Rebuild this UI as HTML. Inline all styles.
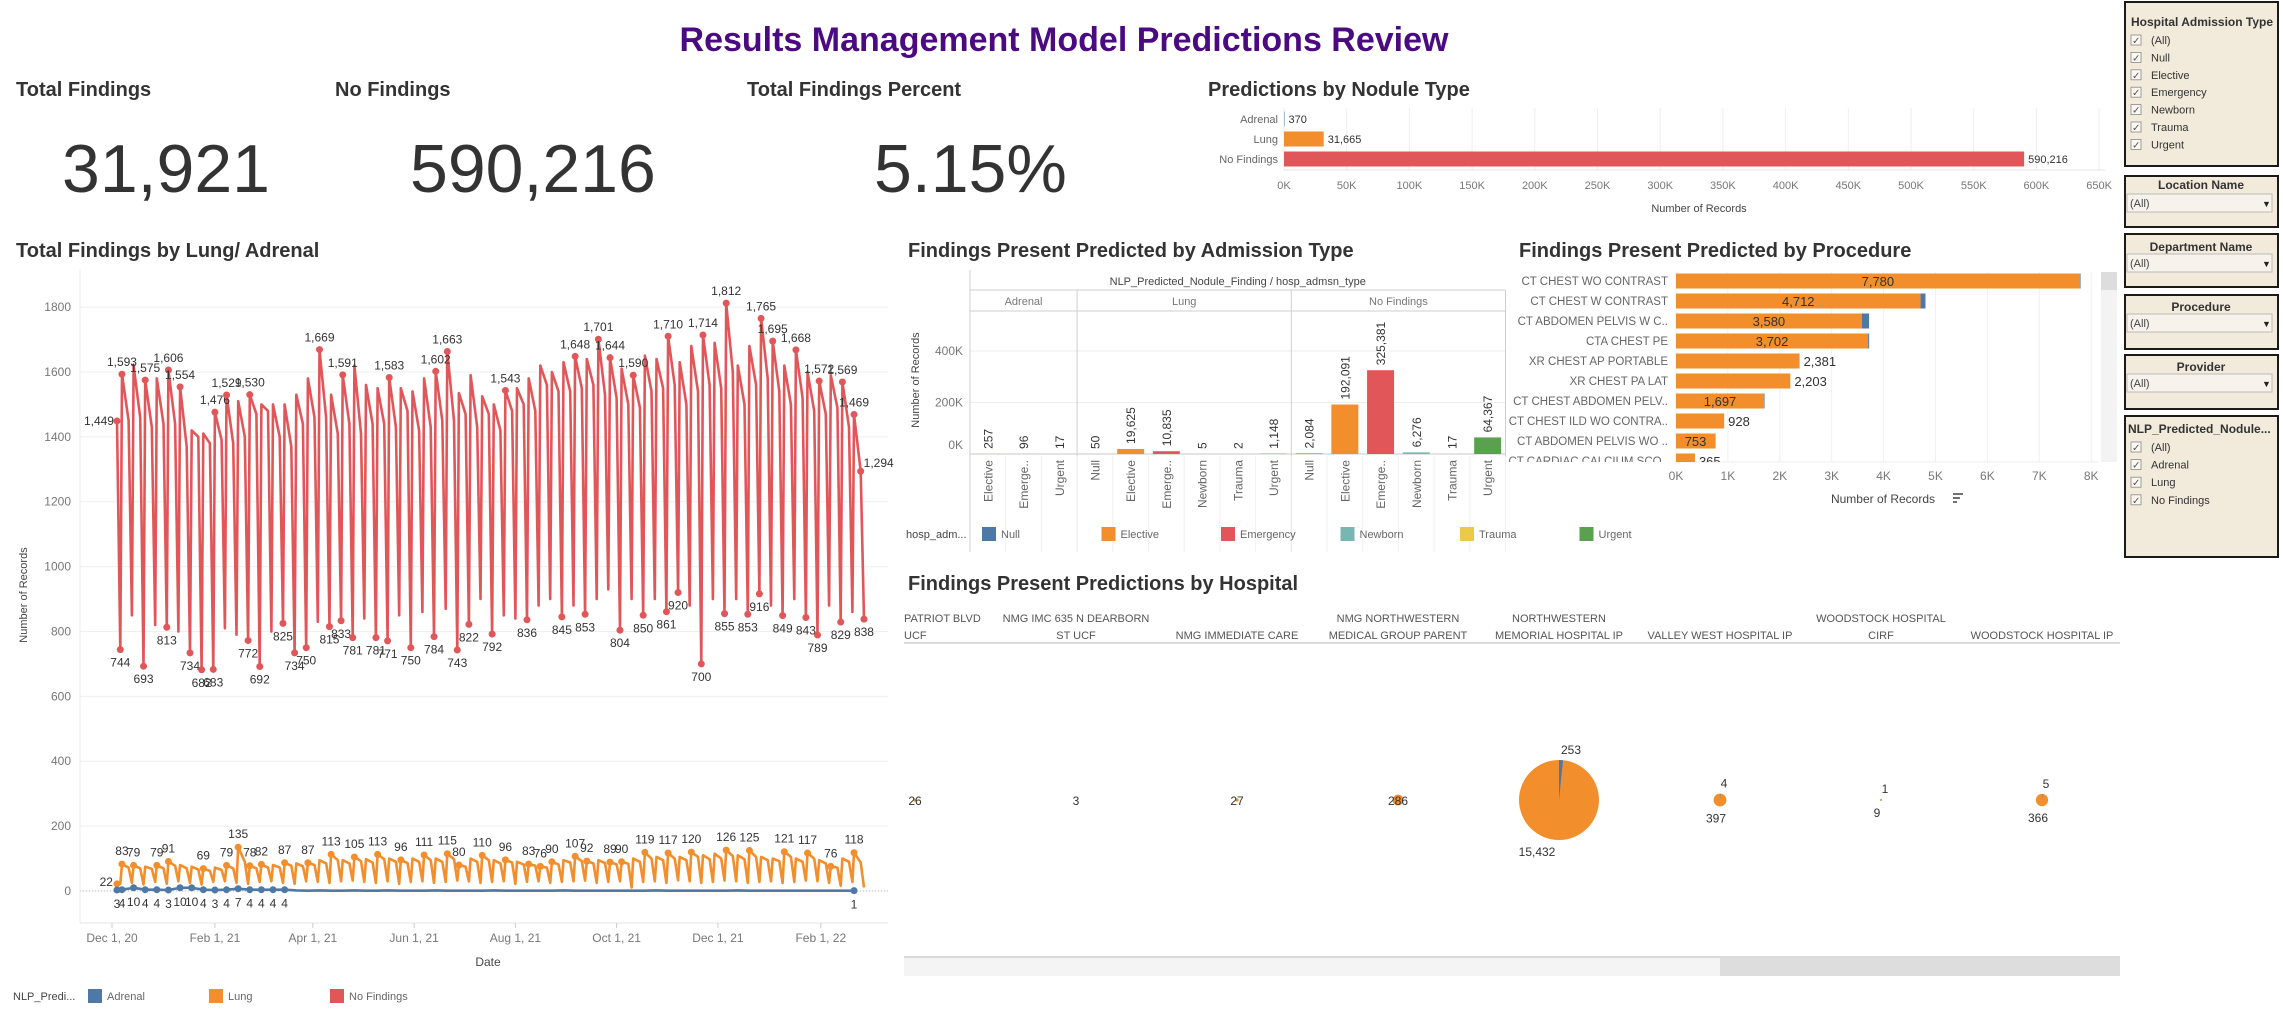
<!DOCTYPE html>
<html><head><meta charset="utf-8"><title>Results Management Model Predictions Review</title>
<style>
html,body{margin:0;padding:0;background:#fff;}
body{width:2283px;height:1014px;overflow:hidden;font-family:"Liberation Sans",Arial,sans-serif;}
svg{display:block;}
svg text{font-family:"Liberation Sans",Arial,sans-serif;}
</style></head>
<body>
<svg id="dash" width="2283" height="1014" viewBox="0 0 2283 1014" xmlns="http://www.w3.org/2000/svg">
  <text x="1064" y="51" text-anchor="middle" font-size="34" font-weight="bold" fill="#4b0a82">Results Management Model Predictions Review</text>

  <text x="16" y="96" font-size="20" font-weight="bold" fill="#333">Total Findings</text>
  <text x="62" y="192" font-size="68" fill="#333">31,921</text>
  <text x="335" y="96" font-size="20" font-weight="bold" fill="#333">No Findings</text>
  <text x="410" y="192" font-size="68" fill="#333">590,216</text>
  <text x="747" y="96" font-size="20" font-weight="bold" fill="#333">Total Findings Percent</text>
  <text x="874" y="192" font-size="68" fill="#333">5.15%</text>

  <text x="1208" y="96" font-size="20" font-weight="bold" fill="#333">Predictions by Nodule Type</text>
  <g id="nodule"></g>

  <text x="16" y="257" font-size="20" font-weight="bold" fill="#333">Total Findings by Lung/ Adrenal</text>
  <g id="lung"></g>

  <text x="908" y="257" font-size="20" font-weight="bold" fill="#333">Findings Present Predicted by Admission Type</text>
  <g id="adm"></g>

  <text x="1519" y="257" font-size="20" font-weight="bold" fill="#333">Findings Present Predicted by Procedure</text>
  <g id="proc"></g>

  <text x="908" y="590" font-size="20" font-weight="bold" fill="#333">Findings Present Predictions by Hospital</text>
  <g id="hosp"></g>

  <g id="filters">
    <g>
      <rect x="2125" y="2" width="153" height="164" fill="#f2eadb" stroke="#1a1a1a" stroke-width="2"/>
      <text x="2131" y="26" font-size="12" font-weight="bold" fill="#333">Hospital Admission Type</text>
    </g>
    <g>
      <rect x="2125" y="176" width="153" height="51" fill="#f2eadb" stroke="#1a1a1a" stroke-width="2"/>
      <text x="2201" y="189" text-anchor="middle" font-size="12" font-weight="bold" fill="#333">Location Name</text>
      <rect x="2127" y="194" width="145" height="18" fill="#f7f3ec" stroke="#bbb" stroke-width="1"/>
      <text x="2130" y="207" font-size="11" fill="#444">(All)</text>
      <text x="2262" y="207" font-size="9" fill="#222">▼</text>
    </g>
    <g>
      <rect x="2125" y="234" width="153" height="53" fill="#f2eadb" stroke="#1a1a1a" stroke-width="2"/>
      <text x="2201" y="251" text-anchor="middle" font-size="12" font-weight="bold" fill="#333">Department Name</text>
      <rect x="2127" y="254" width="145" height="18" fill="#f7f3ec" stroke="#bbb" stroke-width="1"/>
      <text x="2130" y="267" font-size="11" fill="#444">(All)</text>
      <text x="2262" y="267" font-size="9" fill="#222">▼</text>
    </g>
    <g>
      <rect x="2125" y="295" width="153" height="54" fill="#f2eadb" stroke="#1a1a1a" stroke-width="2"/>
      <text x="2201" y="311" text-anchor="middle" font-size="12" font-weight="bold" fill="#333">Procedure</text>
      <rect x="2127" y="314" width="145" height="18" fill="#f7f3ec" stroke="#bbb" stroke-width="1"/>
      <text x="2130" y="327" font-size="11" fill="#444">(All)</text>
      <text x="2262" y="327" font-size="9" fill="#222">▼</text>
    </g>
    <g>
      <rect x="2125" y="355" width="153" height="54" fill="#f2eadb" stroke="#1a1a1a" stroke-width="2"/>
      <text x="2201" y="371" text-anchor="middle" font-size="12" font-weight="bold" fill="#333">Provider</text>
      <rect x="2127" y="374" width="145" height="18" fill="#f7f3ec" stroke="#bbb" stroke-width="1"/>
      <text x="2130" y="387" font-size="11" fill="#444">(All)</text>
      <text x="2262" y="387" font-size="9" fill="#222">▼</text>
    </g>
    <g>
      <rect x="2125" y="416" width="153" height="141" fill="#f2eadb" stroke="#1a1a1a" stroke-width="2"/>
      <text x="2128" y="433" font-size="12" font-weight="bold" fill="#333">NLP_Predicted_Nodule...</text>
    </g>
  </g>
</svg>
<script>
// ---------- data ----------
const nodCats = ['Adrenal','Lung','No Findings'];
const nodVals = [370, 31665, 590216];
const nodTicks = [0,50,100,150,200,250,300,350,400,450,500,550,600,650];

const admGroups = ['Adrenal','Lung','No Findings'];
const admGroupOf = [0,0,0,1,1,1,1,1,1,2,2,2,2,2,2];
const admTypes = ['Elective','Emergency','Urgent','Null','Elective','Emergency','Newborn','Trauma','Urgent','Null','Elective','Emergency','Newborn','Trauma','Urgent'];
const admVals = [257,96,17,50,19625,10835,5,2,1148,2084,192091,325381,6276,17,64367];
const admTicks = [0,200,400];
const legendTypes = ['Null','Elective','Emergency','Newborn','Trauma','Urgent'];

const procNames = ['CT CHEST WO CONTRAST','CT CHEST W CONTRAST','CT ABDOMEN PELVIS W C..','CTA CHEST PE','XR CHEST AP PORTABLE','XR CHEST PA LAT','CT CHEST ABDOMEN PELV..','CT CHEST ILD WO CONTRA..','CT ABDOMEN PELVIS WO ..','CT CARDIAC CALCIUM SCO..'];
const procLung = [7780,4712,3580,3702,2381,2203,1697,928,753,365];
const procAdrenal = [15,95,140,20,0,0,10,0,8,0];
const procLabelInside = [true,true,true,true,false,false,true,false,true,false];
const procTicks = [0,1,2,3,4,5,6,7,8];

const hospNames = [['PATRIOT BLVD','UCF'],['NMG IMC 635 N DEARBORN','ST UCF'],['','NMG IMMEDIATE CARE'],['NMG NORTHWESTERN','MEDICAL GROUP PARENT'],['NORTHWESTERN','MEMORIAL HOSPITAL IP'],['','VALLEY WEST HOSPITAL IP'],['WOODSTOCK HOSPITAL','CIRF'],['','WOODSTOCK HOSPITAL IP']];
const hospLung = [26,3,27,286,15432,397,9,366];
const hospAdrenal = [0,0,0,0,253,4,1,5];

const nfMon = [null,1593,1620,1575,1580,1606,1554,1420,1410,1476,1529,1510,1530,1500,1500,1500,1530,1580,1669,1530,1591,1620,1560,1550,1583,1550,1540,1580,1602,1663,1535,1590,1525,1500,1543,1550,1580,1620,1600,1630,1648,1640,1701,1644,1610,1590,1650,1640,1710,1630,1680,1714,1690,1812,1620,1680,1765,1695,1620,1668,1600,1572,1590,1569,1469];
const nfFri = [1449,1450,1460,1430,1440,1440,1370,1400,1380,1390,1380,1400,1470,1480,1400,1370,1440,1460,1460,1410,1440,1410,1440,1440,1430,1480,1420,1430,1450,1450,1470,1430,1470,1420,1480,1500,1480,1560,1540,1540,1550,1560,1530,1520,1500,1490,1540,1550,1560,1500,1540,1560,1550,1600,1500,1560,1580,1540,1500,1520,1480,1470,1490,1430,1294];
const nfSun = [744,850,693,820,813,800,734,682,683,810,790,772,692,800,825,734,750,830,815,833,781,840,781,771,850,750,860,784,870,743,822,900,792,850,840,836,880,900,845,880,853,900,930,804,900,850,900,861,920,880,700,900,855,900,853,916,880,849,900,843,789,880,829,860,838];
const nfPeakLabelW = [1,3,5,6,9,10,12,18,20,24,28,29,34,40,42,43,45,48,51,53,56,57,59,61,63,64];
const nfSunLabelW = [0,2,4,6,7,8,11,12,14,15,16,18,19,20,22,23,25,27,29,30,32,35,38,40,43,45,47,48,50,52,54,55,57,59,60,62,64];

const lungMon = [null,83,79,75,79,91,80,75,69,72,79,135,78,82,80,87,85,87,95,113,95,105,98,113,100,96,100,111,100,115,80,100,110,95,96,90,83,76,90,95,107,92,95,89,90,100,119,105,117,105,120,110,115,126,110,125,105,100,121,100,117,95,76,100,118];
const lungFri = [22,72,70,68,70,78,70,66,62,65,70,90,70,72,72,78,76,80,85,95,85,92,88,98,90,86,90,95,90,98,75,90,95,85,88,82,78,72,82,88,92,85,86,82,84,90,100,95,100,95,105,98,100,108,98,105,95,92,105,90,100,85,72,90,88];
const lungSun = [22,25,20,28,22,30,25,20,28,30,25,22,28,30,25,22,30,28,25,30,32,28,25,30,22,28,30,25,28,32,30,25,28,30,22,28,30,25,28,30,32,25,28,30,11,28,30,25,33,30,25,28,32,30,25,28,30,25,28,32,30,25,16,28,11];
const lungPeakLabelW = [1,2,4,5,8,10,11,12,13,15,17,19,21,23,25,27,29,30,32,34,36,37,38,40,41,43,44,46,48,50,53,55,58,60,62,64];

const adrWeekly = [3,4,10,4,4,3,10,10,4,3,4,7,4,4,4,4,
  2,1,2,1,1,2,1,1,2,1,
  1,1,2,1,1,1,1,2,1,1,
  1,1,1,2,1,1,1,1,1,1,
  1,2,1,1,1,1,1,1,2,1,
  1,1,1,1,1,1,1,1,1];
const adrLabelW = [0,1,2,3,4,5,6,7,8,9,10,11,12,13,14,15,64];

const lungYTicks = [0,200,400,600,800,1000,1200,1400,1600,1800];
const dateTickLabels = ['Dec 1, 20','Feb 1, 21','Apr 1, 21','Jun 1, 21','Aug 1, 21','Oct 1, 21','Dec 1, 21','Feb 1, 22'];
const dateTickDays = [0,62,121,182,243,304,365,427];

// ---------- helpers ----------
const NS = 'http://www.w3.org/2000/svg';
function mk(tag, attrs, parent){const e=document.createElementNS(NS,tag);for(const k in attrs)e.setAttribute(k,attrs[k]);parent.appendChild(e);return e;}
function tx(str, attrs, parent){const e=mk('text',attrs,parent);e.textContent=str;return e;}
const fmt = v => v.toLocaleString('en-US');
const C = {Null:'#4e79a7',Elective:'#f28e2b',Emergency:'#e15759',Newborn:'#76b7b2',Trauma:'#edc948',Urgent:'#59a14f'};
const RED='#e15759', ORANGE='#f28e2b', BLUE='#4e79a7';

// ---------- nodule chart ----------
(function(){
  const g=document.getElementById('nodule');
  const xN=v=>1284+v*0.001254;
  const yN=i=>119+20*i;
  nodTicks.forEach(t=>{
    const l=mk('line',{x1:xN(t*1000),x2:xN(t*1000),y1:108,y2:170,stroke:'#eeeeee','stroke-width':1},g);
    
    
    const lb=tx(t+'K',{x:xN(t*1000),y:189,'text-anchor':'middle','font-size':11,fill:'#777'},g);
    
    
  });
  const ax=mk('line',{x1:1284,x2:2105,y1:170,y2:170,stroke:'#e4e4e4'},g);
  
  
  const cols=[BLUE,ORANGE,RED];
  nodCats.forEach((c,i)=>{
    const cl=tx(c,{x:1278,y:yN(i)+4,'text-anchor':'end','font-size':11,fill:'#666'},g);
    
    
    const w=Math.max(0.5,xN(nodVals[i])-xN(0));
    const b=mk('rect',{x:xN(0),y:yN(i)-7.5,width:w,height:15,fill:cols[i]},g);
    
    
    const vl=tx(fmt(nodVals[i]),{x:xN(nodVals[i])+4,y:yN(i)+4,'font-size':11,fill:'#333'},g);
    
    
  });
  const at=tx('Number of Records',{x:1699,y:212,'text-anchor':'middle','font-size':11,fill:'#444'},g);
  
  
})();

// ---------- lung/adrenal line chart ----------
(function(){
  const g=document.getElementById('lung');
  const xD=d=>112+d*1.66;
  const yL=v=>891-v*0.3244;
  lungYTicks.forEach(t=>{
    const l=mk('line',{x1:80,x2:888,y1:yL(t),y2:yL(t),stroke:'#efefef'},g);
    
    
    const lb=tx(String(t),{x:71,y:yL(t)+4,'text-anchor':'end','font-size':12,fill:'#777'},g);
    
    
  });
  const zl=mk('line',{x1:80,x2:888,y1:yL(0),y2:yL(0),stroke:'#bbb','stroke-dasharray':'1,2'},g);
  
  
  const va=mk('line',{x1:80,x2:80,y1:269,y2:923,stroke:'#ececec'},g);
  
  
  const ha=mk('line',{x1:80,x2:888,y1:923,y2:923,stroke:'#e6e6e6'},g);
  
  
  dateTickLabels.forEach((s,i)=>{
    const x=xD(dateTickDays[i]);
    const tk=mk('line',{x1:x,x2:x,y1:923,y2:928,stroke:'#ccc'},g);
    
    
    const lb=tx(s,{x:x,y:942,'text-anchor':'middle','font-size':12,fill:'#777'},g);
    
    
  });
  const yt=tx('Number of Records',{x:0,y:0,'text-anchor':'middle','font-size':11,fill:'#444',transform:'translate(27,595) rotate(-90)'},g);
  
  
  const xt=tx('Date',{x:488,y:966,'text-anchor':'middle','font-size':12,fill:'#444'},g);
  
  

  function weekly(mon,fri,sun){
    const pts=[];
    for(let w=0;w<mon.length;w++){
      if(mon[w]!==null) pts.push({d:7*w-1,v:mon[w]});
      pts.push({d:7*w+3,v:fri[w]});
      pts.push({d:7*w+5,v:sun[w]});
    }
    return pts;
  }
  function drawLine(pts,color,name,width){
    const p=mk('path',{d:pts.map((p,i)=>(i?'L':'M')+xD(p.d).toFixed(1)+','+yL(p.v).toFixed(1)).join(''),fill:'none',stroke:color,'stroke-width':width,'stroke-linejoin':'round'},g);
    
    
  }
  function dot(d,v,color){
    const c=mk('circle',{cx:xD(d),cy:yL(v),r:3.5,fill:color},g);
    
    
  }
  function lab(s,x,y,anchor){
    const t=tx(s,{x:x,y:y,'text-anchor':anchor||'middle','font-size':12,fill:'#333'},g);
    
    
  }
  const nf=weekly(nfMon,nfFri,nfSun);
  drawLine(nf,RED,'no-findings-line',2.6);
  nfPeakLabelW.forEach(w=>{const d=7*w-1;dot(d,nfMon[w],RED);lab(fmt(nfMon[w]),xD(d),yL(nfMon[w])-8);});
  nfSunLabelW.forEach(w=>{const d=7*w+5;dot(d,nfSun[w],RED);lab(fmt(nfSun[w]),xD(d),yL(nfSun[w])+17);});
  dot(3,nfFri[0],RED);lab(fmt(nfFri[0]),xD(3)-3,yL(nfFri[0])+4,'end');
  dot(7*64+3,nfFri[64],RED);lab(fmt(nfFri[64]),xD(7*64+3)+3,yL(nfFri[64])-4,'start');
  const lu=weekly(lungMon,lungFri,lungSun);
  drawLine(lu,ORANGE,'lung-line',2.6);
  lungPeakLabelW.forEach(w=>{const d=7*w-1;dot(d,lungMon[w],ORANGE);lab(String(lungMon[w]),xD(d),yL(lungMon[w])-9);});
  dot(3,lungFri[0],ORANGE);lab(String(lungFri[0]),xD(3)-4,yL(lungFri[0])+2,'end');
  const ad=adrWeekly.map((v,w)=>({d:w===0?3:7*w-1,v:v}));
  drawLine(ad,BLUE,'adrenal-line',2.6);
  adrLabelW.forEach(w=>{const p=ad[w];dot(p.d,p.v,BLUE);lab(String(p.v),xD(p.d),yL(p.v)+18);});
  const lt=tx('NLP_Predi...',{x:13,y:1000,'font-size':11,fill:'#444'},g);
  
  
  [['Adrenal',BLUE,88],['Lung',ORANGE,209],['No Findings',RED,330]].forEach(a=>{
    const s=mk('rect',{x:a[2],y:989,width:14,height:14,fill:a[1]},g);
    
    
    const t=tx(a[0],{x:a[2]+19,y:1000,'font-size':11,fill:'#666'},g);
    
    
  });
})();

// ---------- admission type chart ----------
(function(){
  const g=document.getElementById('adm');
  const colW=35.7, x0=970;
  const xC=i=>x0+colW*i+colW/2;
  const yA=v=>454-v*0.0002575;
  const right=x0+colW*admVals.length;
  admTicks.forEach(t=>{
    const l=mk('line',{x1:x0,x2:right,y1:yA(t*1000),y2:yA(t*1000),stroke:t?'#eeeeee':'#c8c8c8'},g);
    
    
    const lb=tx(t+'K',{x:963,y:yA(t*1000)+(t?4:-5),'text-anchor':'end','font-size':12,fill:'#777'},g);
    
    
  });
  const yt=tx('Number of Records',{x:0,y:0,'text-anchor':'middle','font-size':11,fill:'#444',transform:'translate(919,380) rotate(-90)'},g);
  
  
  const h=tx('NLP_Predicted_Nodule_Finding / hosp_admsn_type',{x:(x0+right)/2,y:285,'text-anchor':'middle','font-size':11,fill:'#444'},g);
  
  
  [[x0,270,x0,552],[x0,290,right,290],[x0,311,right,311]].forEach(a=>{
    const l=mk('line',{x1:a[0],y1:a[1],x2:a[2],y2:a[3],stroke:'#cfcfcf'},g);
    
    
  });
  admGroups.forEach((grp,gi)=>{
    const idx=admGroupOf.map((v,i)=>v===gi?i:-1).filter(i=>i>=0);
    const a=x0+colW*idx[0], b=x0+colW*(idx[idx.length-1]+1);
    const t=tx(grp,{x:(a+b)/2,y:305,'text-anchor':'middle','font-size':11,fill:'#777'},g);
    
    
    const l=mk('line',{x1:b,x2:b,y1:290,y2:552,stroke:'#cfcfcf'},g);
    
    
  });
  admVals.forEach((v,i)=>{
    const sep=mk('line',{x1:x0+colW*(i+1),x2:x0+colW*(i+1),y1:456,y2:552,stroke:'#f0f0f0'},g);
    
    
    const top=yA(v);
    const b=mk('rect',{x:xC(i)-13.5,y:top,width:27,height:Math.max(0,454-top),fill:C[admTypes[i]]},g);
    
    
    const vl=tx(fmt(v),{x:0,y:0,'font-size':12,fill:'#333',transform:'translate('+(xC(i)+4.5)+','+(top-5)+') rotate(-90)'},g);
    
    
    let nm=admTypes[i]==='Emergency'?'Emerge..':admTypes[i];
    const cl=tx(nm,{x:0,y:0,'text-anchor':'end','font-size':12,fill:'#666',transform:'translate('+(xC(i)+4.5)+',460) rotate(-90)'},g);
    
    
  });
  const lt=tx('hosp_adm...',{x:906,y:538,'font-size':11,fill:'#444'},g);
  
  
  legendTypes.forEach((t,i)=>{
    const x=982+119.5*i;
    const s=mk('rect',{x:x,y:527,width:14,height:14,fill:C[t]},g);
    
    
    const l=tx(t,{x:x+19,y:538,'font-size':11,fill:'#666'},g);
    
    
  });
})();

// ---------- procedure chart ----------
(function(){
  const g=document.getElementById('proc');
  const cp=mk('clipPath',{id:'procClip'},g);
  mk('rect',{x:1500,y:270,width:600,height:192},cp);
  const xP=v=>1676+v*0.0519;
  const yP=i=>281+20*i;
  procTicks.forEach(t=>{
    const l=mk('line',{x1:xP(t*1000),x2:xP(t*1000),y1:272,y2:462,stroke:'#f0f0f0'},g);
    
    
    const lb=tx(t+'K',{x:xP(t*1000),y:480,'text-anchor':'middle','font-size':12,fill:'#777'},g);
    
    
  });
  const bl=mk('line',{x1:1676,x2:2098,y1:462,y2:462,stroke:'#eee'},g);
  
  
  const cg=mk('g',{'clip-path':'url(#procClip)'},g);
  procNames.forEach((n,i)=>{
    const y=yP(i);
    const nl=tx(n,{x:1668,y:y+4,'text-anchor':'end','font-size':11.5,fill:'#666'},cg);
    
    
    const b=mk('rect',{x:xP(0),y:y-7.5,width:xP(procLung[i])-xP(0),height:15,fill:ORANGE},cg);
    
    
    if(procAdrenal[i]>0){
      const a=mk('rect',{x:xP(procLung[i]),y:y-7.5,width:xP(procAdrenal[i])-xP(0),height:15,fill:BLUE},cg);
      
      
    }
    const inside=procLabelInside[i];
    const vx=inside?(xP(0)+xP(procLung[i]))/2:xP(procLung[i]+procAdrenal[i])+4;
    const vl=tx(fmt(procLung[i]),{x:vx,y:y+5,'text-anchor':inside?'middle':'start','font-size':13,fill:'#333'},cg);
    
    
  });
  const sb=mk('rect',{x:2101,y:272,width:16,height:190,fill:'#f3f3f3'},g);
  
  
  const th=mk('rect',{x:2101,y:272,width:16,height:18,fill:'#dddddd'},g);
  
  
  const at=tx('Number of Records',{x:1883,y:503,'text-anchor':'middle','font-size':12,fill:'#444'},g);
  
  
  const si=mk('path',{d:'M1953,494h10M1953,498h7M1953,502h4',stroke:'#444','stroke-width':1.5},g);
  
  
})();

// ---------- hospital pie chart ----------
(function(){
  const g=document.getElementById('hosp');
  const xH=i=>915+161*i;
  const cy=800;
  const maxTot=Math.max(...hospLung.map((v,i)=>v+hospAdrenal[i]));
  hospNames.forEach((n,i)=>{
    const anchor=i===0?'start':'middle', x=i===0?904:xH(i);
    if(n[0]){const t=tx(n[0],{x:x,y:622,'text-anchor':anchor,'font-size':11,fill:'#555'},g);
      
      }
    const t2=tx(n[1],{x:x,y:639,'text-anchor':anchor,'font-size':11,fill:'#555'},g);
    
    
    const tot=hospLung[i]+hospAdrenal[i];
    const r=40*Math.sqrt(tot/maxTot);
    const cx=xH(i);
    const pie=mk('circle',{cx:cx,cy:cy,r:r,fill:ORANGE},g);
    
    
    if(hospAdrenal[i]>0){
      const ang=2*Math.PI*hospAdrenal[i]/tot;
      const x2=cx+r*Math.sin(ang), y2=cy-r*Math.cos(ang);
      const w=mk('path',{d:'M'+cx+','+cy+'L'+cx+','+(cy-r)+'A'+r+','+r+' 0 0 1 '+x2.toFixed(2)+','+y2.toFixed(2)+'Z',fill:BLUE},g);
      
      
      const al=tx(fmt(hospAdrenal[i]),{x:cx+Math.max(4,r*0.3),y:cy-r-6,'text-anchor':'middle','font-size':12,fill:'#333'},g);
      
      
      const ll=tx(fmt(hospLung[i]),{x:cx-Math.max(4,r*0.55),y:cy+r+16,'text-anchor':'middle','font-size':12,fill:'#333'},g);
      
      
    } else {
      const ll=tx(fmt(hospLung[i]),{x:cx,y:cy+5,'text-anchor':'middle','font-size':12,fill:'#333'},g);
      
      
    }
  });
  const hl=mk('line',{x1:904,x2:2120,y1:643,y2:643,stroke:'#cfcfcf','stroke-width':1.5},g);
  
  
  const sl=mk('line',{x1:904,x2:2120,y1:957,y2:957,stroke:'#cfcfcf','stroke-width':1.5},g);
  
  
  const sb=mk('rect',{x:904,y:958,width:1216,height:18,fill:'#f4f4f4'},g);
  
  
  const th=mk('rect',{x:1720,y:958,width:400,height:18,fill:'#dddddd'},g);
  
  
})();

// ---------- filter checkboxes ----------
(function(){
  const g=document.getElementById('filters');
  function items(list,y0,step){
    list.forEach((s,i)=>{
      const y=y0+step*i;
      const b=mk('rect',{x:2131,y:y-5,width:10,height:10,fill:'#fbf8f2',stroke:'#888','stroke-width':0.8},g);
      
      
      const c=tx('✓',{x:2132,y:y+4,'font-size':10,fill:'#555'},g);
      
      
      const t=tx(s,{x:2151,y:y+4,'font-size':11,fill:'#333'},g);
      
      
    });
  }
  items(['(All)','Null','Elective','Emergency','Newborn','Trauma','Urgent'],40,17.4);
  items(['(All)','Adrenal','Lung','No Findings'],447,17.6);
})();
</script>
</body></html>
